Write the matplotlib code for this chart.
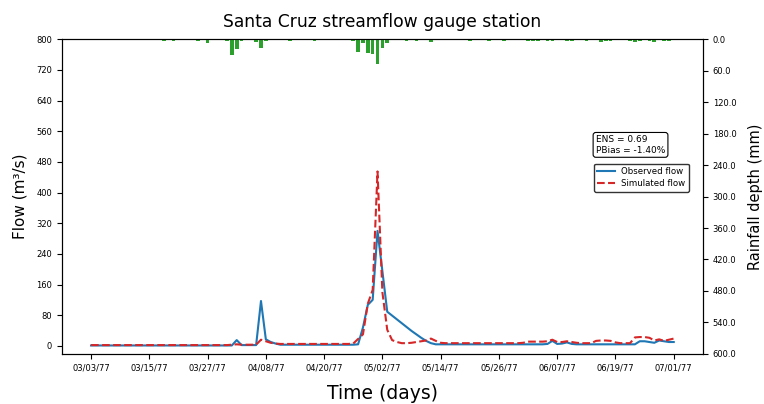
import datetime as dt
import numpy as np
import matplotlib
matplotlib.use("Agg")
import matplotlib.pyplot as plt
import matplotlib.dates as mdates

# Daily series starting 1977-03-03 (121 days through 1977-07-01)
start = dt.date(1977, 3, 3)

observed_flow = (
    [1] * 29
    + [1, 15, 2, 2, 2, 2, 117, 17, 10, 6]               # days 29-38
    + [3] * 16                                           # days 39-54
    + [4, 48, 107, 120, 300, 195, 89, 79, 69, 59, 49,    # days 55-65
       39, 30, 21, 13, 7]                                # days 66-70
    + [4] * 23                                           # days 71-93
    + [5, 13, 5, 6, 9, 5]                                # days 94-99
    + [4] * 12                                           # days 100-111
    + [4, 12, 12, 10, 8, 14, 12, 10, 10]                 # days 112-120
)

simulated_flow = (
    [2] * 29
    + [3, 4, 3, 3, 3, 3, 16, 12, 8, 6]                   # days 29-38
    + [5] * 15                                           # days 39-53
    + [6, 18, 30, 110, 146, 455, 140, 42, 15, 10, 7, 7,  # days 54-65
       8, 10, 12, 14, 19, 13, 8]                         # days 66-72
    + [7] * 16                                           # days 73-88
    + [8, 11, 11, 11, 11, 12, 16, 10, 10, 12, 10, 8,     # days 89-100
       7, 7, 7, 13, 14, 14, 13, 9, 7, 7, 7,              # days 101-111
       22, 23, 23, 21, 14, 17, 13, 16, 19]               # days 112-120
)

rain_day = [15, 17, 22, 24, 28, 29, 30, 31, 34, 35, 36, 41, 46, 54, 55, 56,
            57, 58, 59, 60, 61, 65, 67, 70, 78, 82, 85, 90, 91, 92, 94, 95,
            98, 99, 102, 105, 106, 107, 111, 112, 113, 115, 116, 118, 119]
rain_mm = [3, 3, 3, 7, 3, 30, 19, 4, 5, 16, 3, 4, 3, 3, 25, 8,
           27, 29, 48, 16, 8, 3, 3, 5, 4, 4, 3, 4, 3, 3, 4, 4,
           4, 3, 3, 5, 4, 3, 4, 5, 4, 4, 5, 4, 4]

ens_text = "ENS = 0.69\nPBias = -1.40%"

dates = [start + dt.timedelta(days=i) for i in range(len(observed_flow))]
rain_dates = [start + dt.timedelta(days=d) for d in rain_day]

fig = plt.figure(figsize=(7.64, 4.04), dpi=100)
ax = fig.add_axes([0.081, 0.124, 0.839, 0.779])

ax.plot(dates, observed_flow, color="#1f77b4", lw=1.5, label="Observed flow")
ax.plot(dates, simulated_flow, color="#d62728", lw=1.5, ls="--",
        label="Simulated flow")

ax.set_ylim(-21, 800)
ax.set_yticks(np.arange(0, 801, 80))
ticks = [start + dt.timedelta(days=12 * k) for k in range(11)]
ax.set_xticks(ticks)
ax.xaxis.set_major_formatter(mdates.DateFormatter("%m/%d/%y"))
ax.set_xlim(start - dt.timedelta(days=6.3), start + dt.timedelta(days=126.3))
ax.tick_params(labelsize=6)

ax.set_ylabel("Flow (m³/s)", fontsize=11, labelpad=6)
ax.set_xlabel("Time (days)", fontsize=13.5, labelpad=8)
ax.set_title("Santa Cruz streamflow gauge station", fontsize=12.3, pad=9)

ax2 = ax.twinx()
ax2.bar(rain_dates, rain_mm, width=0.75, color="#2ca02c")
ax2.set_ylim(600, 0)
ax2.set_yticks(np.arange(0, 601, 60))
ax2.set_yticklabels([f"{v:.1f}" for v in np.arange(0, 601, 60)])
ax2.tick_params(labelsize=6)
ax2.set_ylabel("Rainfall depth (mm)", fontsize=10.5, labelpad=8)

ax.text(0.833, 0.695, ens_text, transform=ax.transAxes, fontsize=6.5,
        va="top", ha="left",
        bbox=dict(boxstyle="round,pad=0.3", fc="white", ec="black", lw=0.8))
ax.legend(loc="upper right", bbox_to_anchor=(0.985, 0.618), fontsize=6.2,
          frameon=True, edgecolor="black", fancybox=True, handlelength=2.0,
          borderpad=0.4, labelspacing=0.35)

fig.savefig("out.png", dpi=100)
